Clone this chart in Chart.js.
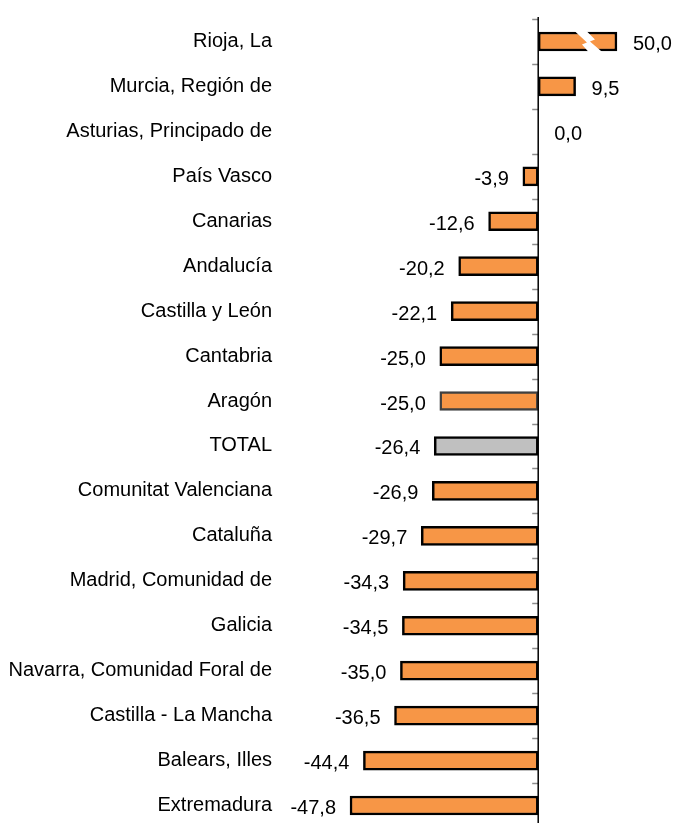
<!DOCTYPE html>
<html>
<head>
<meta charset="utf-8">
<script src="https://cdn.jsdelivr.net/npm/chart.js@4"></script>
<style>
  html, body { margin: 0; padding: 0; background: #fff; overflow: hidden; }
</style>
</head>
<body>
<canvas id="cv" width="677" height="832"></canvas>
<script>
// datos
const regiones = [
  "Rioja, La", "Murcia, Región de", "Asturias, Principado de", "País Vasco",
  "Canarias", "Andalucía", "Castilla y León", "Cantabria", "Aragón", "TOTAL",
  "Comunitat Valenciana", "Cataluña", "Madrid, Comunidad de", "Galicia",
  "Navarra, Comunidad Foral de", "Castilla - La Mancha", "Balears, Illes", "Extremadura"
];
const variacion = [50.0, 9.5, 0.0, -3.9, -12.6, -20.2, -22.1, -25.0, -25.0, -26.4,
  -26.9, -29.7, -34.3, -34.5, -35.0, -36.5, -44.4, -47.8];
// eje cortado: las barras mayores se dibujan hasta este valor
const corte = 20;

const naranja = "#F79646";
const gris = "#C0C0C0";
const fuente = "'Liberation Sans', Arial, sans-serif";

function fmt(v) {
  return v.toFixed(1).replace(".", ",");
}

// eje vertical en cero + marcas + etiquetas + simbolo de corte
const extras = {
  id: "extras",
  afterDatasetsDraw(chart) {
    const ctx = chart.ctx;
    const x = chart.scales.x;
    const y = chart.scales.y;
    const area = chart.chartArea;
    const x0 = x.getPixelForValue(0);

    // marcas del eje
    ctx.save();
    ctx.strokeStyle = "#8c8c8c";
    ctx.lineWidth = 1.5;
    for (let i = 0; i <= regiones.length; i++) {
      const py = Math.round(y.getPixelForValue(i - 0.5)) + 0.5;
      ctx.beginPath();
      ctx.moveTo(x0 - 6, py);
      ctx.lineTo(x0, py);
      ctx.stroke();
    }
    // linea del eje
    ctx.strokeStyle = "#000";
    ctx.lineWidth = 1.5;
    ctx.beginPath();
    ctx.moveTo(x0, area.top - 2);
    ctx.lineTo(x0, area.bottom + 10);
    ctx.stroke();

    // simbolo de corte
    const meta = chart.getDatasetMeta(0);
    variacion.forEach((v, i) => {
      if (v <= corte) return;
      const bar = meta.data[i];
      const r = bar.x, cy = bar.y;
      ctx.fillStyle = "#fff";
      ctx.beginPath();
      ctx.moveTo(r - 44, cy - 12);
      ctx.lineTo(r - 32, cy - 12);
      ctx.lineTo(r - 22, cy - 2);
      ctx.lineTo(r - 27, cy + 0);
      ctx.lineTo(r - 13, cy + 12);
      ctx.lineTo(r - 27, cy + 12);
      ctx.lineTo(r - 35, cy + 3);
      ctx.lineTo(r - 30, cy + 1);
      ctx.closePath();
      ctx.fill();
    });

    // etiquetas de valor
    ctx.fillStyle = "#000";
    ctx.font = "20px " + fuente;
    ctx.textBaseline = "middle";
    meta.data.forEach((bar, i) => {
      const v = variacion[i];
      if (v >= 0) {
        ctx.textAlign = "left";
        ctx.fillText(fmt(v), Math.max(bar.x, x0) + 16, bar.y + 3);
      } else {
        ctx.textAlign = "right";
        ctx.fillText(fmt(v), bar.x - 14, bar.y + 3);
      }
    });
    ctx.restore();
  }
};

const config = {
  type: "bar",
  data: {
    labels: regiones,
    datasets: [{
      data: variacion.map(v => Math.min(v, corte)),
      backgroundColor: regiones.map(r => r === "TOTAL" ? gris : naranja),
      borderColor: regiones.map(r => r === "Aragón" ? "#404040" : "#000"),
      borderWidth: 2.5,
      borderSkipped: false,
      barThickness: 19
    }]
  },
  options: {
    indexAxis: "y",
    responsive: false,
    animation: false,
    layout: { padding: { top: 19, bottom: 4, left: 0, right: 1 } },
    plugins: {
      legend: { display: false },
      tooltip: { enabled: false }
    },
    scales: {
      x: {
        display: false,
        min: -60,
        max: 35
      },
      y: {
        grid: { display: false, drawTicks: false },
        border: { display: false },
        afterFit(scale) {
          scale.width = 302;
          scale.paddingTop = 0;
          scale.paddingBottom = 0;
        },
        ticks: {
          padding: 30,
          color: "#000",
          font: { family: fuente, size: 20 }
        }
      }
    }
  },
  plugins: [extras]
};

new Chart(document.getElementById("cv").getContext("2d"), config);
</script>
</body>
</html>
